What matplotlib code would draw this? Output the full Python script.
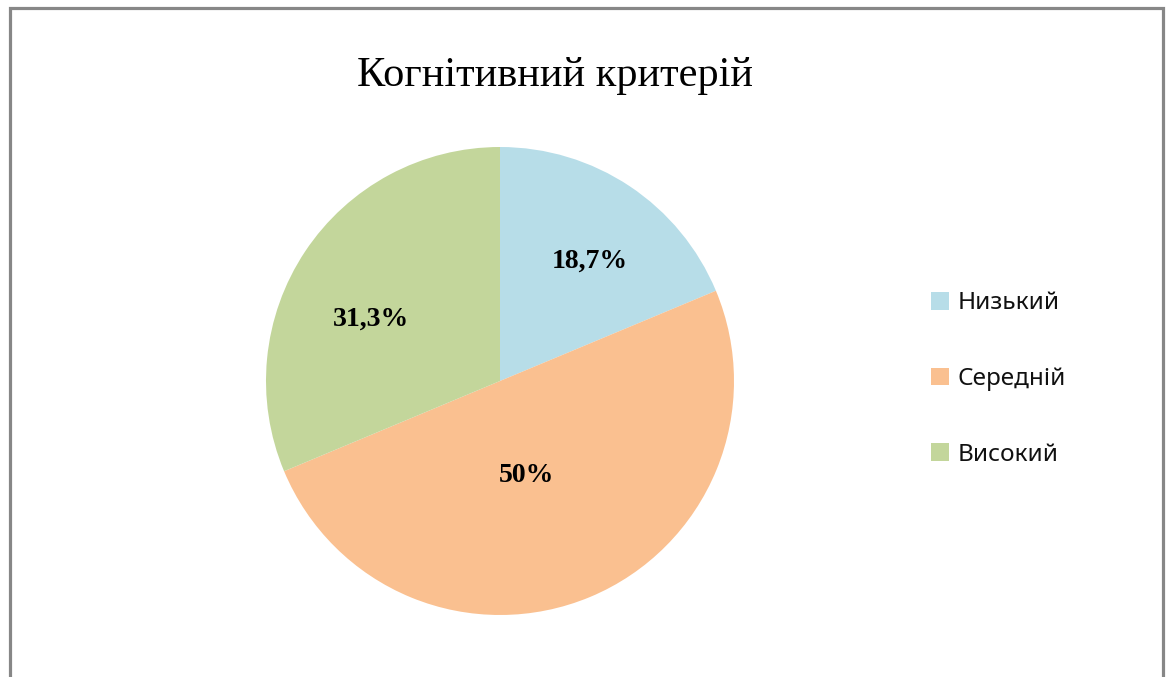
import matplotlib
matplotlib.use("Agg")
import matplotlib.pyplot as plt
import numpy as np
from matplotlib.patches import Rectangle, Patch

categories = ["Низький", "Середній", "Високий"]
values = [18.7, 50.0, 31.3]
value_labels = ["18,7%", "50%", "31,3%"]
colors = ["#B7DDE8", "#FAC090", "#C3D69B"]
title = "Когнітивний критерій"

W, H = 1171, 677
fig = plt.figure(figsize=(W / 100, H / 100), dpi=100)

# frame
fig.patches.append(Rectangle((9.5 / W, -0.05), (1162.5 - 9.5) / W, 1.05 - 7.5 / H,
                             transform=fig.transFigure, fill=False,
                             edgecolor="#878787", linewidth=2.3))

cx, cy, r = 500, 381, 234
ax = fig.add_axes([(cx - r) / W, (H - cy - r) / H, 2 * r / W, 2 * r / H])
wedges, _ = ax.pie(values, colors=colors, startangle=90, counterclock=False,
                   radius=1.0, wedgeprops=dict(linewidth=0))
ax.set_xlim(-1, 1)
ax.set_ylim(-1, 1)
ax.set_aspect("equal")
ax.axis("off")

label_dist = [0.64, 0.42, 0.61]
label_shift = [-3, -7, 8]  # degrees
for w, lab, d, s in zip(wedges, value_labels, label_dist, label_shift):
    ang = np.deg2rad((w.theta1 + w.theta2) / 2 + s)
    ax.text(d * np.cos(ang), d * np.sin(ang), lab, ha="center", va="center",
            fontsize=20, fontweight="bold", family="Liberation Serif")

fig.text(555 / W, 1 - 76 / H, title, ha="center", va="center",
         fontsize=30.5, family="Liberation Serif")

handles = [Patch(facecolor=c, edgecolor="none") for c in colors]
leg = fig.legend(handles, categories, loc="center left",
                 bbox_to_anchor=(909 / W, 1 - 379 / H), frameon=False,
                 prop=dict(family="Noto Sans", size=17.5),
                 handlelength=0.75, handleheight=0.75, handletextpad=0.35,
                 labelspacing=2.13)
for t in leg.get_texts():
    t.set_color("#111111")

fig.savefig("out.png", dpi=100)
